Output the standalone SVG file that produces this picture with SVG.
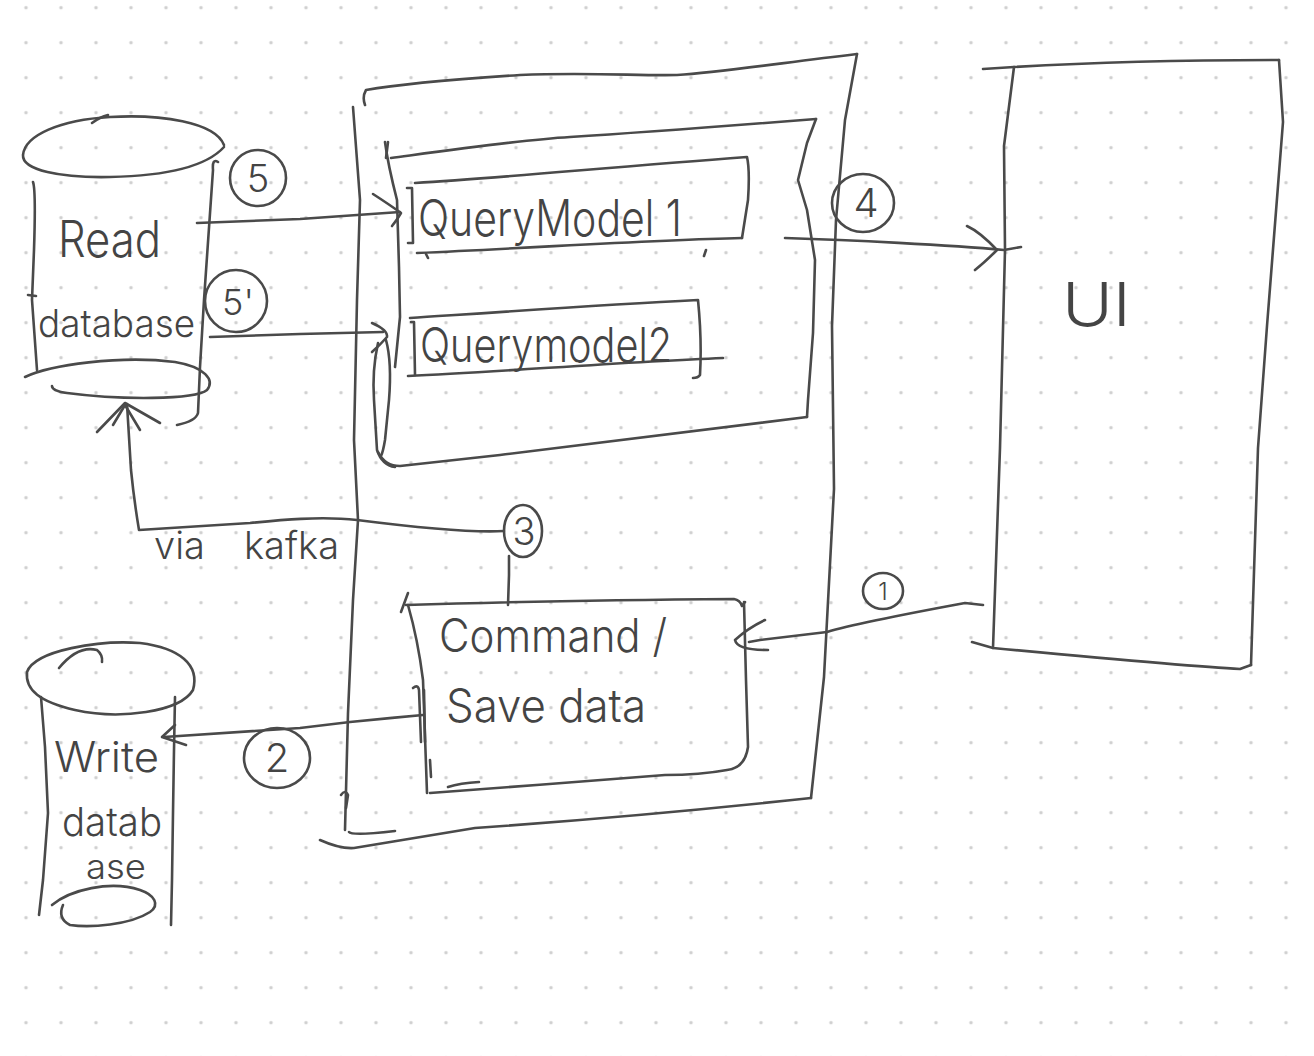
<svg xmlns="http://www.w3.org/2000/svg" width="1314" height="1056" viewBox="0 0 1314 1056">
<style>
.ink{fill:none;stroke:#4a4a4a;stroke-width:2.6;stroke-linecap:round;stroke-linejoin:round}
.lbl{fill:#444;font-family:Inter,"Open Sans","Liberation Sans",sans-serif;font-weight:300}
.num{fill:#444;font-family:Inter,"Open Sans","Liberation Sans",sans-serif;font-weight:300;text-anchor:middle}
</style>
<defs>
<pattern id="dots" x="8.5" y="-9.8" width="35" height="35" patternUnits="userSpaceOnUse">
<circle cx="17.5" cy="17.5" r="1.7" fill="#cfcfcf"/>
</pattern>
</defs>
<rect width="1314" height="1056" fill="#ffffff"/>
<rect width="1314" height="1056" fill="url(#dots)"/>

<g id="read-db">
<path class="ink" d="M224,145 C215,122 160,114 110,117 C60,120 25,135 23,155 C22,170 60,178 110,177 C160,176 205,168 224,147"/>
<path class="ink" d="M92,123 Q100,117 108,115"/>
<path class="ink" d="M33,182 Q36,190 34,250 L32,300 Q35,340 37,370"/>
<path class="ink" d="M28,295 L36,296"/>
<path class="ink" d="M218,162 Q212,158 213,170 L204,300 L200,367 L198,413 Q196,421 177,425"/>
<path class="ink" d="M25,377 C50,365 120,355 175,362 C205,367 215,380 207,390 C195,400 120,400 67,393 Q52,391 52,386"/>
<text class="lbl" x="58" y="257" font-size="50" textLength="103" lengthAdjust="spacingAndGlyphs">Read</text>
<text class="lbl" x="38" y="337" font-size="38" textLength="157" lengthAdjust="spacingAndGlyphs">database</text>
</g>

<g id="write-db">
<path class="ink" d="M27,672 C35,650 100,640 140,643 C180,648 200,665 193,690 C180,712 120,720 75,710 C40,702 25,690 27,672 Z"/>
<path class="ink" d="M59,668 Q78,645 97,650 Q103,655 102,662"/>
<path class="ink" d="M41,697 L45,747 L48,813 L43,880 L39,915"/>
<path class="ink" d="M175,697 L174,750 L173,813 L172,880 L171,925"/>
<path class="ink" d="M52,905 C70,890 110,880 140,890 C155,895 160,905 150,912 C130,925 90,928 70,925 C60,920 60,912 63,905"/>
<text class="lbl" x="54" y="772" font-size="42" textLength="105" lengthAdjust="spacingAndGlyphs">Write</text>
<text class="lbl" x="62" y="836" font-size="40" textLength="100" lengthAdjust="spacingAndGlyphs">datab</text>
<text class="lbl" x="86" y="879" font-size="34" textLength="60" lengthAdjust="spacingAndGlyphs">ase</text>
</g>

<g id="service">
<path class="ink" d="M365,105 Q362,97 366,90 C400,84 445,80 520,75 C588,72 640,76 677,75 C720,72 766,65 857,54"/>
<path class="ink" d="M857,54 L845,120 L836,220 L832,326 L834,489 L824,677 L811,798"/>
<path class="ink" d="M811,798 C700,810 560,822 475,828 L354,848 Q340,849 320,840"/>
<path class="ink" d="M353,107 L360,200 L357,300 L354,440 L358,520 L353,600 L348,713 L345,830"/>
<path class="ink" d="M341,795 Q345,789 348,795 L346,808"/>
<path class="ink" d="M349,832 Q352,836 395,831"/>
</g>

<g id="query-side">
<path class="ink" d="M388,142 L386,158"/>
<path class="ink" d="M391,158 C450,150 520,140 570,137 C650,132 740,125 816,119"/>
<path class="ink" d="M816,119 L807,143 L798,180 L807,210 L815,260 L813,333 L808,400 L807,417"/>
<path class="ink" d="M807,417 C700,430 600,442 500,455 L400,466 Q385,466 378,452"/>
<path class="ink" d="M385,142 Q388,165 397,200 L399,267 L400,317 L395,367"/>
<path class="ink" d="M386,340 Q392,362 389,400 L385,440 Q383,452 381,456"/>
<path class="ink" d="M378,343 Q372,370 374,400 L377,450 Q382,465 395,467"/>
</g>

<g id="query-model-1">
<path class="ink" d="M415,183 C500,178 600,168 747,157 Q750,170 748,200 L742,238"/>
<path class="ink" d="M742,238 C650,240 550,247 417,253"/>
<path class="ink" d="M407,188 L412,188 L413,243 L408,243"/>
<path class="ink" d="M426,254 L428,258"/>
<path class="ink" d="M706,250 L704,256"/>
<text class="lbl" x="418" y="236" font-size="50" textLength="264" lengthAdjust="spacingAndGlyphs">QueryModel 1</text>
</g>

<g id="query-model-2">
<path class="ink" d="M410,318 C500,312 600,305 698,300 Q702,340 700,375 Q698,378 693,378"/>
<path class="ink" d="M408,376 C500,372 620,362 723,358"/>
<path class="ink" d="M411,322 L414,322 L415,375"/>
<text class="lbl" x="420" y="362" font-size="48" textLength="252" lengthAdjust="spacingAndGlyphs">Querymodel2</text>
</g>

<g id="command">
<path class="ink" d="M401,612 L408,593"/>
<path class="ink" d="M406,605 C500,602 600,600 734,599 Q740,600 742,606 L745,602"/>
<path class="ink" d="M744,602 L746,680 L748,747 Q745,768 727,770 C700,775 680,775 665,775 C600,780 500,788 430,793"/>
<path class="ink" d="M408,605 Q418,640 423,680 L427,793"/>
<path class="ink" d="M430,760 L431,777"/>
<path class="ink" d="M448,787 Q460,783 479,782"/>
<text class="lbl" x="439" y="652" font-size="46" textLength="228" lengthAdjust="spacingAndGlyphs">Command /</text>
<text class="lbl" x="446" y="722" font-size="46" textLength="200" lengthAdjust="spacingAndGlyphs">Save data</text>
</g>

<g id="ui">
<path class="ink" d="M983,69 L1014,67 C1100,62 1184,60 1279,60"/>
<path class="ink" d="M1014,67 L1004,146 L1005,250 L1000,448 L993,648"/>
<path class="ink" d="M1279,60 L1283,122 L1267,326 L1258,448 L1251,665"/>
<path class="ink" d="M972,642 L993,648 C1100,658 1200,667 1240,669 L1251,665"/>
<text class="lbl" x="1062" y="326" font-size="60" textLength="69" lengthAdjust="spacingAndGlyphs">UI</text>
</g>

<g id="connectors">
<g id="c5">
<path class="ink" d="M197,223 L300,219 L400,212"/>
<path class="ink" d="M373,194 Q390,205 401,213 Q397,220 392,226"/>
</g>
<g id="c5b">
<path class="ink" d="M210,337 L300,334 L383,332"/>
<path class="ink" d="M372,323 Q388,330 387,337 Q380,345 372,352"/>
</g>
<g id="c3">
<path class="ink" d="M509,556 L509,575 L508,605"/>
<path class="ink" d="M504,531 C470,533 420,528 357,520 C320,516 280,520 250,523 L139,530 Q134,500 131,470 L127,404"/>
<path class="ink" d="M97,432 L125,403 L160,423"/>
<path class="ink" d="M113,425 L125,405 L140,430"/>
<text class="lbl" font-size="38"><tspan x="154" y="559">via</tspan><tspan x="244" y="559">kafka</tspan></text>
</g>
<g id="c2">
<path class="ink" d="M423,715 C400,717 370,720 350,722 L300,728 L164,737"/>
<path class="ink" d="M175,725 L162,737 L186,745"/>
<path class="ink" d="M413,688 Q418,684 419,690 L421,742"/>
<path class="ink" d="M424,690 L425,742"/>
</g>
<g id="c4">
<path class="ink" d="M785,238 C850,240 950,245 1004,250 L1021,247"/>
<path class="ink" d="M967,226 Q980,232 997,250 Q985,262 975,270"/>
</g>
<g id="c1">
<path class="ink" d="M983,605 L965,603 C900,615 850,625 827,632 L760,640 L749,642"/>
<path class="ink" d="M765,620 Q748,628 735,640 Q737,650 768,650"/>
</g>
<g id="labels">
<ellipse class="ink" cx="258" cy="178" rx="28" ry="28"/>
<text class="num" x="258" y="192" font-size="38">5</text>
<ellipse class="ink" cx="236" cy="301" rx="31" ry="31"/>
<text class="num" x="238" y="315" font-size="36">5'</text>
<ellipse class="ink" cx="523" cy="531" rx="19" ry="26"/>
<text class="num" x="524" y="545" font-size="38">3</text>
<ellipse class="ink" cx="277" cy="758" rx="33" ry="30"/>
<text class="num" x="277" y="772" font-size="40">2</text>
<ellipse class="ink" cx="863" cy="203" rx="31" ry="29"/>
<text class="num" x="866" y="217" font-size="40">4</text>
<ellipse class="ink" cx="883" cy="591" rx="20" ry="18"/>
<text class="num" x="883" y="600" font-size="24">1</text>
</g>
</g>
</svg>
